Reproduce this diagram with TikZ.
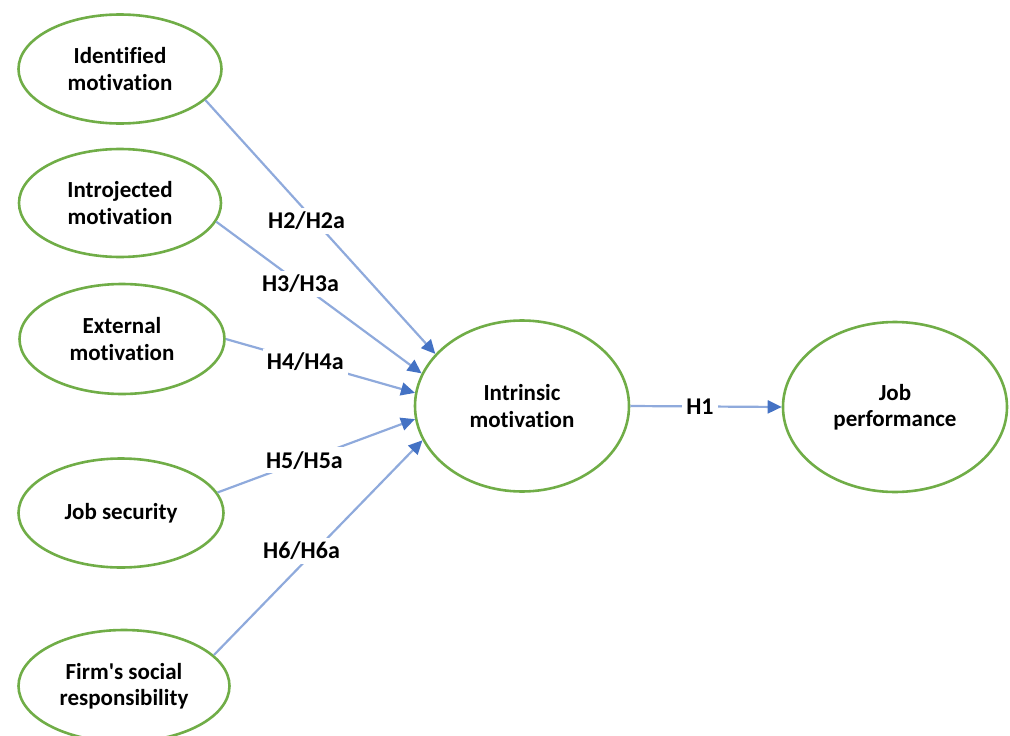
\documentclass[tikz,border=0pt]{standalone}
\usepackage{fontspec}
\setmainfont{Carlito}[Ligatures={NoCommon,TeXOff}]
\usetikzlibrary{arrows.meta,shapes.geometric}
\definecolor{ovalgruen}{RGB}{112,173,71}
\definecolor{pfeilhell}{RGB}{143,170,220}
\definecolor{pfeilblau}{RGB}{68,114,196}
\begin{document}
\begin{tikzpicture}[x=1pt,y=-1pt,
		konstrukt/.style={ellipse,draw=ovalgruen,line width=2.6pt,align=center,inner sep=0pt,font=\fontsize{23}{26.5}\selectfont\bfseries},
		pfeil/.style={draw=pfeilhell,line width=2.2pt,-{Triangle[length=14pt,width=13pt,color=pfeilblau]}},
		hyp/.style={fill=white,inner sep=4pt,font=\fontsize{24}{26}\selectfont\bfseries}]
				\useasboundingbox (0,0) rectangle (1010,736);
				% linke Spalte
				\node[konstrukt,minimum width=203pt,minimum height=109pt] (ident) at (120,69) {Identified\\motivation};
				\node[konstrukt,minimum width=202pt,minimum height=108pt] (introj) at (120,203) {Introjected\\motivation};
				\node[konstrukt,minimum width=205pt,minimum height=110pt] (extern) at (122,339) {External\\motivation};
				\node[konstrukt,minimum width=205pt,minimum height=109pt] (sicher) at (121,513) {Job security};
				\node[konstrukt,minimum width=211pt,minimum height=112pt] (firma) at (124,686) {Firm's social\\responsibility};
				% Mitte und rechts
				\node[konstrukt,minimum width=214pt,minimum height=171pt] (intrin) at (522,406) {Intrinsic\\motivation};
				\node[konstrukt,minimum width=224pt,minimum height=170pt] (leistung) at (895,407) {Job\\performance};
				% Pfade
				\draw[pfeil] (ident.-20) -- node[hyp,pos=0.44,yshift=-9pt] {H2/H2a} (intrin.149);
				\draw[pfeil] (introj.-11) -- node[hyp,pos=0.41] {H3/H3a} (intrin.162);
				\draw[pfeil] (extern.east) -- node[hyp,pos=0.42] {H4/H4a} (intrin.173);
				\draw[pfeil] (sicher.12) -- node[hyp,pos=0.44] {H5/H5a} (intrin.187);
				\draw[pfeil] (firma.19) -- node[hyp,pos=0.42,yshift=14pt] {H6/H6a} (intrin.199);
				\draw[pfeil] (intrin.east) -- node[hyp,pos=0.46] {H1} (leistung.west);
\end{tikzpicture}
\end{document}
